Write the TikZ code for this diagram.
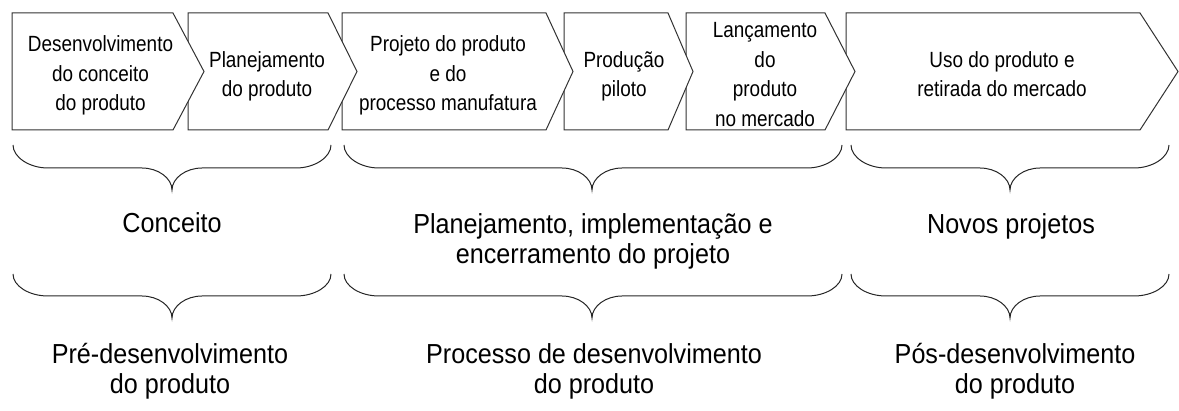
\documentclass[tikz,border=0pt]{standalone}
\usepackage{fontspec}
\setmainfont{Liberation Sans}
\newfontfamily\boxfont[FakeStretch=0.86]{Liberation Sans}
\newfontfamily\labfont[FakeStretch=0.915]{Liberation Sans}
\tikzset{
  stage/.style={draw=black!80, fill=white, line width=1pt, line join=miter},
  boxtext/.style={align=center, inner sep=0pt, font=\boxfont\fontsize{22}{29.5}\selectfont},
  labtext/.style={align=center, inner sep=0pt, font=\labfont\fontsize{27.5}{30}\selectfont},
  bracepath/.style={draw=black!85, line width=1pt},
}
% left, right, tip
\newcommand\stagebox[3]{%
  \draw[stage] (#1,13) -- (#2,13) -- (#3,71.5) -- (#2,130) -- (#1,130) -- cycle;}
% x0, x1, xtip, ytop, ymid, ytip
\newcommand\curlybrace[6]{%
  \draw[bracepath] (#1,#4) .. controls (#1,#4+12) and (#1+16,#5) .. (#1+35,#5)
    -- (#3-30,#5) .. controls (#3-14,#5) and (#3,#6-12) .. (#3,#6)
    .. controls (#3,#6-12) and (#3+14,#5) .. (#3+30,#5)
    -- (#2-35,#5) .. controls (#2-16,#5) and (#2,#4+12) .. (#2,#4);}
\begin{document}
\begin{tikzpicture}[x=1pt, y=-1pt]
\useasboundingbox (0,0) rectangle (1179,411);
% stage boxes (drawn right to left so each left box lies on top)
\stagebox{846}{1140}{1178}
\stagebox{686}{825}{855}
\stagebox{564}{668}{693}
\stagebox{342}{546}{573}
\stagebox{188}{328}{357}
\stagebox{12}{173}{204}
% box texts
\node[boxtext] (t1) at (100.5,75.8) {Desenvolvimento\\do conceito\\do produto};
\node[boxtext] (t2) at (267,76.3) {Planejamento\\do produto};
\node[boxtext] (t3) at (448,75.8) {Projeto do produto\\e do\\processo manufatura};
\node[boxtext] (t4) at (624,76.3) {Produção\\piloto};
\node[boxtext] (t5) at (765,74.5) {Lançamento\\do\\produto\\no mercado};
\node[boxtext] (t6) at (1002,74) {Uso do produto e\\retirada do mercado};
% first row of braces
\curlybrace{13}{331}{172}{145}{168}{190}
\curlybrace{344}{842}{592}{145}{168}{190}
\curlybrace{851}{1169}{1010}{145}{168}{190}
% first row labels
\node[labtext] (l1) at (172,223) {Conceito};
\node[labtext] (l2) at (593,241) {Planejamento, implementação e\\encerramento do projeto};
\node[labtext] (l3) at (1011,226) {Novos projetos};
% second row of braces
\curlybrace{13}{331}{172}{274}{296}{318}
\curlybrace{344}{842}{592}{274}{296}{318}
\curlybrace{851}{1169}{1010}{274}{296}{318}
% second row labels
\node[labtext] (m1) at (170,371.4) {Pré-desenvolvimento\\do produto};
\node[labtext] (m2) at (594,371.4) {Processo de desenvolvimento\\do produto};
\node[labtext] (m3) at (1015,371.4) {Pós-desenvolvimento\\do produto};
\end{tikzpicture}
\end{document}
